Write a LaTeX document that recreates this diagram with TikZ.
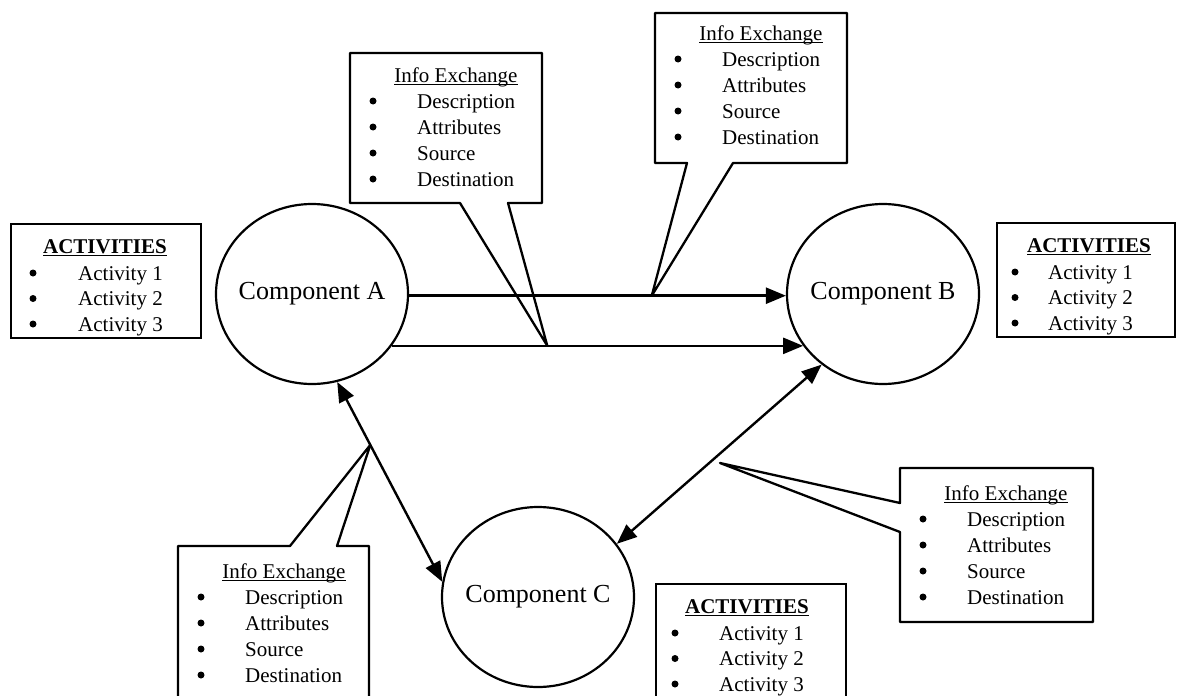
\documentclass[tikz,border=0pt]{standalone}
\usepackage{fontspec}
\setmainfont{Liberation Serif}
\usetikzlibrary{arrows.meta,shapes.geometric,calc}

% underline with a slightly heavier rule than \underline
\newcommand\undl[1]{\setbox0\hbox{#1}\rlap{\rule[-3pt]{\wd0}{1.3pt}}\box0}

\tikzset{
  comp/.style={draw, ellipse, line width=2.2pt, minimum width=192pt, minimum height=180pt,
    inner sep=0pt, font=\fontsize{26}{30}\selectfont},
  flow/.style={line width=2.4pt, -{Triangle[length=20pt,width=16pt]}},
  both/.style={line width=2.4pt, {Triangle[length=20pt,width=16pt]}-{Triangle[length=20pt,width=16pt]}},
  callout/.style={line width=2.3pt, line join=round},
  actbox/.style={draw, line width=2.3pt, anchor=north west, inner sep=0pt},
  txt/.style={font=\fontsize{21}{26}\selectfont, inner sep=0pt, anchor=base west},
  ttl/.style={font=\fontsize{21}{26}\selectfont, inner sep=0pt, anchor=base},
  dot/.style={circle, fill, inner sep=0pt, minimum size=7pt},
}

% text of an "Info Exchange" callout; #1 name, (#2,#3) top-left corner of its text block
\newcommand\infolist[3]{%
  \begin{scope}[shift={(#2,#3)}]
    \node[ttl] (#1-t) at (106,29) {\undl{Info Exchange}};
    \foreach \w [count=\i] in {Description,Attributes,Source,Destination}{
      \node[dot] (#1-b\i) at (23,22+26*\i) {};
      \node[txt] (#1-i\i) at (67,29+26*\i) {\w};
    }
  \end{scope}}

% activities box; #1 name, (#2,#3) top-left corner, #4 width,
% #5 bullet column, #6 text column, #7 title centre
\newcommand\actlist[7]{%
  \begin{scope}[shift={(#2,#3)}]
    \node[actbox, minimum width=#4pt, minimum height=114pt] (#1) at (0,0) {};
    \node[ttl] (#1-t) at (#7,30) {\bfseries\undl{ACTIVITIES}};
    \foreach \i in {1,2,3}{
      \node[dot] (#1-b\i) at (#5,24.5+25.5*\i) {};
      \node[txt] (#1-i\i) at (#6,31.5+25.5*\i) {Activity \i};
    }
  \end{scope}}

\begin{document}
\begin{tikzpicture}[x=1pt,y=-1pt]
  \useasboundingbox (0,0) rectangle (1178,696);
  \fill[white] (0,0) rectangle (1178,696);
  \clip (0,0) rectangle (1178,696);

  % components
  \node[comp] (A) at (312,294) {\raisebox{3pt}{\makebox[0pt]{Component A}}};
  \node[comp] (B) at (883,294) {\raisebox{3pt}{\makebox[0pt]{Component B}}};
  \node[comp] (C) at (538,597) {\raisebox{3pt}{\makebox[0pt]{Component C}}};

  % activities
  \actlist{actA}{10}{223}{190}{23}{68}{95}
  \actlist{actB}{996}{222}{178}{19}{52}{93}
  \actlist{actC}{655}{583}{190}{20}{64}{92}

  % connectors
  \draw[flow] (A.-1.8) -- (B.181.8);
  \draw[flow] (A.-33.6) -- (B.213.6);
  \draw[both] (A.-74.3) -- (C.171.6);
  \draw[both] (B.229.3) -- (C.34.4);

  % callout pointer tips
  \coordinate (t1tip) at ($(A.-33.6)!0.378!(B.213.6)$);
  \coordinate (t2tip) at ($(A.-1.8)!0.644!(B.181.8)$);
  \coordinate (ltip) at ($(A.-74.3)!0.315!(C.171.6)$);
  \coordinate (rtip) at (720,463);

  % callout outlines
  \draw[callout] (460,203) -- (350,203) -- (350,53) -- (542,53) -- (542,203) -- (508,203) -- (t1tip) -- cycle;
  \draw[callout] (687,163) -- (655,163) -- (655,13) -- (847,13) -- (847,163) -- (733,163) -- (t2tip) -- cycle;
  \draw[callout] (290,546) -- (178,546) -- (178,720) -- (369,720) -- (369,546) -- (337,546) -- (ltip) -- cycle;
  \draw[callout] (900,503) -- (900,468) -- (1093,468) -- (1093,622) -- (900,622) -- (900,532) -- (rtip) -- cycle;

  % callout texts
  \infolist{t1}{350}{53}
  \infolist{t2}{655}{11}
  \infolist{lc}{178}{549}
  \infolist{rc}{900}{471}
\end{tikzpicture}
\end{document}
